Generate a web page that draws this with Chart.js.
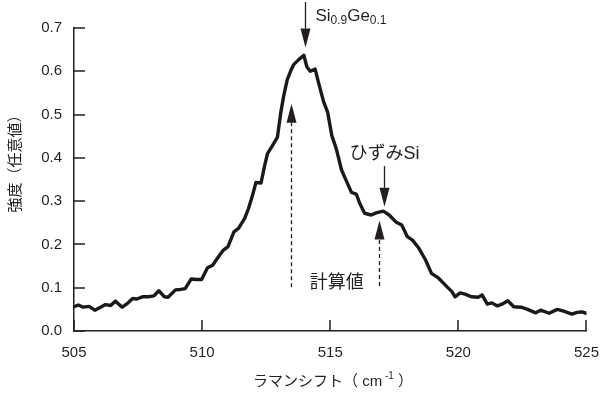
<!DOCTYPE html>
<html>
<head>
<meta charset="utf-8">
<script src="https://cdn.jsdelivr.net/npm/chart.js@4/dist/chart.umd.min.js"></script>
<style>
  html, body { margin: 0; padding: 0; background: #fff; }
</style>
</head>
<body>
<canvas id="myChart" width="612" height="401"></canvas>
<script>
// Raman spectrum: shift (cm-1) vs intensity (arb. units)
const shift = [
  505.00, 505.17, 505.36, 505.59, 505.81, 506.00, 506.23, 506.43, 506.62, 506.88,
  507.09, 507.29, 507.45, 507.67, 507.90, 508.12, 508.31, 508.53, 508.67, 508.96,
  509.15, 509.34, 509.57, 509.79, 509.98, 510.21, 510.41, 510.63, 510.83, 511.01,
  511.24, 511.42, 511.66, 511.81, 511.97, 512.10, 512.30, 512.43, 512.55, 512.75,
  512.94, 513.07, 513.19, 513.32, 513.45, 513.58, 513.77, 513.97, 514.09, 514.22,
  514.41, 514.55, 514.74, 514.90, 515.06, 515.25, 515.44, 515.64, 515.83, 516.02,
  516.15, 516.34, 516.60, 516.79, 517.07, 517.30, 517.56, 517.79, 518.01, 518.21,
  518.46, 518.72, 518.95, 519.23, 519.56, 519.75, 519.87, 520.07, 520.26, 520.52,
  520.77, 520.93, 521.13, 521.31, 521.52, 521.70, 521.93, 522.16, 522.45, 522.70,
  523.02, 523.21, 523.54, 523.86, 524.11, 524.43, 524.63, 524.82, 524.99
];
const intensity = [
  0.056, 0.060, 0.055, 0.057, 0.048, 0.054, 0.061, 0.059, 0.069, 0.055,
  0.064, 0.075, 0.074, 0.079, 0.079, 0.081, 0.093, 0.079, 0.078, 0.095,
  0.096, 0.098, 0.120, 0.119, 0.119, 0.146, 0.152, 0.171, 0.187, 0.195,
  0.229, 0.237, 0.260, 0.283, 0.314, 0.343, 0.342, 0.379, 0.410, 0.429,
  0.448, 0.505, 0.545, 0.580, 0.600, 0.616, 0.627, 0.637, 0.610, 0.600,
  0.605, 0.572, 0.530, 0.505, 0.452, 0.418, 0.372, 0.345, 0.320, 0.316,
  0.295, 0.272, 0.268, 0.273, 0.277, 0.268, 0.252, 0.245, 0.218, 0.210,
  0.191, 0.164, 0.133, 0.122, 0.102, 0.091, 0.079, 0.088, 0.085, 0.079,
  0.078, 0.083, 0.062, 0.065, 0.058, 0.062, 0.070, 0.056, 0.055, 0.050,
  0.042, 0.048, 0.041, 0.050, 0.046, 0.039, 0.043, 0.044, 0.041
];
const xTicks = [505, 510, 515, 520, 525];
const yTicks = [0, 0.1, 0.2, 0.3, 0.4, 0.5, 0.6, 0.7];

const yTitle = '強度（任意値）';

const ink = '#231f20';
const latin = '"Liberation Sans", Arial, "Noto Sans CJK JP", sans-serif';
const cjk = '"Liberation Sans", "Noto Sans CJK JP", sans-serif';

// arrows: x in cm-1, from/to in intensity units (to = arrow tip)
const peakArrows = [
  { x: 514.0, from: 0.76, to: 0.655, dashed: false },
  { x: 517.1, from: 0.381, to: 0.287, dashed: false },
  { x: 513.48, from: 0.101, to: 0.525, dashed: true },
  { x: 516.9, from: 0.104, to: 0.255, dashed: true }
];

function arrow(ctx, x, y0, y1, dashed) {
  const dir = y1 > y0 ? 1 : -1;
  const headLen = 19, half = 5;
  ctx.save();
  ctx.strokeStyle = ink;
  ctx.fillStyle = ink;
  ctx.lineWidth = 1.3;
  if (dashed) ctx.setLineDash([4, 3]);
  ctx.beginPath();
  ctx.moveTo(x, y0);
  ctx.lineTo(x, y1 - dir * headLen);
  ctx.stroke();
  ctx.setLineDash([]);
  ctx.beginPath();
  ctx.moveTo(x, y1);
  ctx.lineTo(x - half, y1 - dir * headLen);
  ctx.lineTo(x + half, y1 - dir * headLen);
  ctx.closePath();
  ctx.fill();
  ctx.restore();
}

// inward tick marks, titles, arrows and labels
const notes = {
  id: 'notes',
  afterDraw(chart) {
    const c = chart.ctx;
    const x = chart.scales.x, y = chart.scales.y;
    const area = chart.chartArea;
    c.save();

    c.fillStyle = ink;
    xTicks.forEach(v => {
      const px = Math.round(x.getPixelForValue(v));
      c.fillRect(px - 0.75, area.bottom - 11, 1.5, 11);
    });
    yTicks.forEach(v => {
      const py = Math.round(y.getPixelForValue(v));
      c.fillRect(area.left, py - 0.75, 11, 1.5);
    });

    peakArrows.forEach(a => {
      arrow(c, Math.round(x.getPixelForValue(a.x)) + 0.5,
        y.getPixelForValue(a.from), y.getPixelForValue(a.to), a.dashed);
    });

    // Si0.9Ge0.1
    c.textBaseline = 'alphabetic';
    c.textAlign = 'left';
    let px = x.getPixelForValue(514.42);
    const base = y.getPixelForValue(0.716);
    const runs = [['Si', 17, 0], ['0.9', 12, 3], ['Ge', 17, 0], ['0.1', 12, 3]];
    runs.forEach(([t, s, dy]) => {
      c.font = s + 'px ' + latin;
      c.fillText(t, px, base + dy);
      px += c.measureText(t).width;
    });

    c.font = '18px ' + cjk;
    c.textBaseline = 'middle';
    c.fillText('ひずみSi', x.getPixelForValue(515.75), y.getPixelForValue(0.409));
    c.textAlign = 'center';
    c.fillText('計算値', x.getPixelForValue(515.25), y.getPixelForValue(0.110));

    // x axis title with superscript
    const parts = [['ラマンシフト（ ', 15, 0], ['cm', 15, 0], [' -1', 10, -6], [' ）', 15, 0]];
    let total = 0;
    parts.forEach(([t, s]) => { c.font = s + 'px ' + cjk; total += c.measureText(t).width; });
    let tx = 333 - total / 2;
    c.textAlign = 'left';
    parts.forEach(([t, s, dy]) => {
      c.font = s + 'px ' + cjk;
      c.fillText(t, tx, 382 + dy);
      tx += c.measureText(t).width;
    });

    // y axis title
    c.translate(16, 160);
    c.rotate(-Math.PI / 2);
    c.textAlign = 'center';
    c.font = '15px ' + cjk;
    c.fillText(yTitle, 0, 0);
    c.restore();
  }
};

const ctx = document.querySelector('#myChart').getContext('2d');
new Chart(ctx, {
  type: 'line',
  data: {
    datasets: [{
      data: shift.map((v, i) => ({ x: v, y: intensity[i] })),
      borderColor: '#1a1a1a',
      borderWidth: 3.4,
      pointRadius: 0,
      tension: 0,
      borderJoinStyle: 'round',
      borderCapStyle: 'round'
    }]
  },
  options: {
    responsive: false,
    animation: false,
    devicePixelRatio: 1,
    layout: { padding: { top: 28, right: 19, left: 0, bottom: 0 } },
    plugins: { legend: { display: false }, tooltip: { enabled: false } },
    scales: {
      x: {
        type: 'linear',
        min: 505,
        max: 525,
        afterBuildTicks: s => { s.ticks = xTicks.map(v => ({ value: v })); },
        afterFit: s => { s.height = 70; },
        grid: { display: false, drawTicks: false },
        border: { display: true, color: ink, width: 1.5 },
        ticks: { color: ink, padding: 13, maxRotation: 0, font: { size: 15, family: latin } }
      },
      y: {
        min: 0,
        max: 0.7,
        afterBuildTicks: s => { s.ticks = yTicks.map(v => ({ value: v })); },
        afterFit: s => { s.width = 74; },
        grid: { display: false, drawTicks: false },
        border: { display: true, color: ink, width: 1.5 },
        ticks: {
          color: ink, padding: 12, font: { size: 15, family: latin },
          callback: v => v.toFixed(1)
        }
      }
    }
  },
  plugins: [notes]
});
</script>
</body>
</html>
